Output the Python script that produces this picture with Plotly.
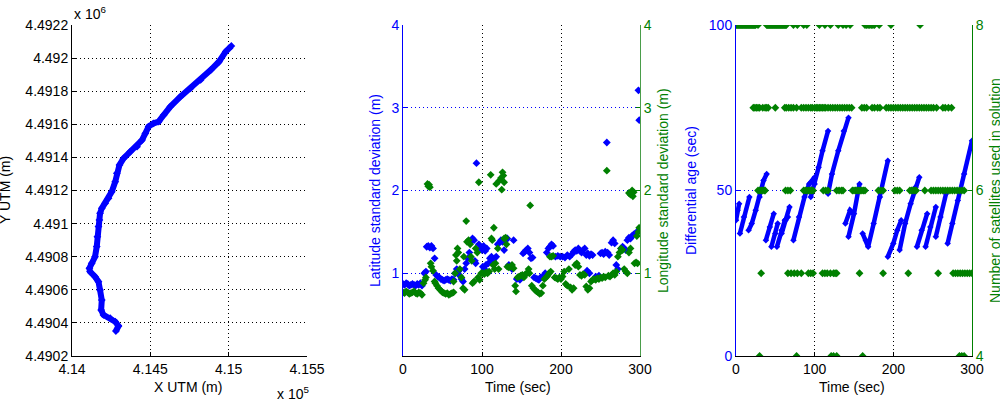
import plotly.graph_objects as go

# ---------------- Data ----------------
# Subplot 1: trajectory in UTM coordinates (m)
path_x = [414280, 414297, 414276, 414244, 414201, 414186, 414190, 414179, 414169, 414147,
          414115, 414111, 414126, 414147, 414158, 414162, 414169, 414175, 414179, 414190,
          414212, 414233, 414254, 414276, 414286, 414303, 414329, 414372, 414415, 414447,
          414468, 414489, 414521, 414553, 414585, 414628, 414692, 414756, 414821, 414885,
          414938, 414981, 415017]
path_y = [4490351, 4490381, 4490407, 4490428, 4490448, 4490478, 4490538, 4490599, 4490649, 4490679,
          4490710, 4490730, 4490760, 4490800, 4490861, 4490921, 4490982, 4491022, 4491062, 4491092,
          4491123, 4491153, 4491193, 4491253, 4491304, 4491354, 4491394, 4491435, 4491465, 4491505,
          4491545, 4491586, 4491606, 4491616, 4491656, 4491707, 4491767, 4491817, 4491868, 4491928,
          4491978, 4492039, 4492073]
x1_tickvals = [414000, 414500, 415000, 415500]
x1_ticktext = ["4.14", "4.145", "4.15", "4.155"]
y1_tickvals = [4490200, 4490400, 4490600, 4490800, 4491000, 4491200, 4491400, 4491600, 4491800, 4492000, 4492200]
y1_ticktext = ["4.4902", "4.4904", "4.4906", "4.4908", "4.491", "4.4912", "4.4914", "4.4916", "4.4918", "4.492", "4.4922"]

# Subplot 2: latitude / longitude standard deviation (m)
lat_t = [0, 2, 4, 6, 8, 10, 12, 14, 16, 18, 20, 22, 24, 27, 29, 30, 32, 34, 36, 38, 40,
         42, 44, 46, 48, 50, 52, 54, 56, 58, 60, 62, 64, 66, 68, 70, 72, 74, 76,
         78, 80, 82, 84, 86, 88, 90, 91, 92, 93, 96, 98, 100, 102, 104, 106,
         101, 103, 105, 108, 110, 112, 114, 116, 118, 120, 122, 124, 126, 128, 130, 132,
         134, 136, 138, 140, 144, 146, 148, 150, 152, 154, 156, 158, 160, 162, 164,
         166, 168, 170, 172, 174, 178, 180, 182, 184, 186, 188, 190,
         193, 196, 199, 202, 205, 208, 211, 214, 216, 218, 220, 222, 224, 226, 228, 230,
         232, 234, 236, 238, 240, 233, 236, 244, 246, 248, 250, 252, 254, 256, 258, 259, 261,
         264, 266, 268, 270, 272, 276, 278, 280, 282, 284, 286, 288, 290, 292, 294, 296, 298, 299]
lat_v = [0.87, 0.86, 0.88, 0.87, 0.85, 0.86, 0.87, 0.86, 0.85, 0.87, 0.86, 0.88, 0.85, 1.0, 1.02, 1.32, 1.33, 1.31, 1.33, 1.3, 1.18,
         0.98, 0.96, 0.95, 0.93, 0.92, 0.91, 0.92, 0.93, 0.92, 0.91, 0.93, 0.92, 1.0, 1.05, 1.02, 0.97, 0.93, 0.9,
         1.05, 1.12, 1.18, 1.25, 1.38, 1.42, 1.4, 1.15, 1.12, 2.33, 1.35, 1.3, 1.28, 1.33, 1.27, 1.3,
         1.08, 1.05, 1.1, 1.12, 1.18, 1.2, 1.15, 1.18, 1.2, 1.35, 1.37, 1.4, 1.38, 1.28, 1.4, 1.42,
         1.1, 1.08, 1.05, 1.4, 0.93, 0.95, 0.92, 0.95, 1.24, 1.26, 1.28, 1.3, 1.25, 1.18, 1.19,
         0.95, 0.94, 0.93, 0.92, 0.95, 0.97, 1.0, 1.25, 1.3, 1.32, 1.35, 1.33,
         1.2, 1.21, 1.2, 1.2, 1.19, 1.22, 1.2, 1.23, 1.26, 1.28, 1.27, 1.3, 1.27, 1.25, 1.28, 1.3,
         1.22, 1.24, 1.21, 1.23, 1.22, 1.03, 1.0, 0.96, 0.95, 0.97, 1.24, 1.25, 1.23, 1.26, 2.58, 1.25, 1.22,
         1.37, 1.4, 1.36, 1.1, 1.05, 1.3, 1.32, 1.3, 1.28, 1.4, 1.43, 1.42, 1.45, 1.47, 1.48, 1.5, 3.21, 2.85]

lon_t = [0, 2, 4, 6, 8, 10, 12, 14, 16, 18, 20, 22, 24, 26, 28, 29, 31, 32, 33, 34, 35, 36, 38,
         40, 41, 43, 45, 47, 49, 50, 52, 54, 56, 58, 60, 62, 64, 64, 66, 67, 68, 69, 70, 72, 74,
         76, 77, 78, 80, 81, 83, 85, 86, 87, 88, 90, 92, 94, 95, 96, 97, 99, 101, 103, 105, 107, 109,
         111, 112, 113, 114, 115, 116, 117, 118, 120, 121, 122, 124, 125, 126, 127, 128, 128, 130, 131,
         132, 134, 136, 138, 140, 142, 143, 145, 147, 149, 151, 153, 155, 157, 159, 160, 161,
         163, 165, 167, 169, 171, 173, 175, 177, 179, 181, 183, 185, 187, 186, 188, 190,
         192, 194, 196, 198, 200, 202, 204, 206, 208, 210, 212, 214, 216, 218, 220, 222,
         224, 226, 228, 230, 232, 234, 236, 238, 240, 242, 244, 246, 248, 250, 252, 254, 256, 258,
         260, 262, 264, 266, 268, 270, 272, 274, 276, 278, 280, 282, 284, 286, 288,
         286, 288, 290, 291, 292, 293, 295, 297, 296, 298, 299]
lon_v = [0.77, 0.76, 0.78, 0.77, 0.75, 0.76, 0.77, 0.78, 0.76, 0.75, 0.77, 0.76, 0.74, 0.88, 0.92, 0.95, 2.08, 2.05, 2.07, 2.04, 1.12, 1.08, 1.03,
         0.9, 0.88, 0.85, 0.82, 0.8, 0.78, 0.77, 0.76, 0.75, 0.76, 0.74, 0.75, 0.76, 0.77, 0.9, 1.0, 1.22, 1.15, 1.3, 1.25, 1.05, 0.95,
         0.82, 1.2, 0.8, 1.63, 1.38, 1.4, 1.35, 1.2, 1.15, 0.88, 0.9, 1.3, 1.25, 0.95, 2.1, 0.92, 1.0, 1.0, 0.99, 1.01, 1.0, 1.02,
         2.19, 1.42, 1.4, 1.1, 1.55, 1.05, 1.12, 2.08, 1.3, 1.05, 2.12, 2.15, 2.01, 2.22, 2.18, 2.1, 1.42, 1.43, 1.35,
         1.08, 1.07, 1.08, 1.1, 1.06, 0.85, 0.78, 0.95, 0.96, 0.97, 0.98, 0.95, 0.99, 1.0, 1.05, 1.0, 1.82,
         0.85, 0.82, 0.8, 0.78, 0.77, 0.75, 0.76, 0.85, 0.93, 0.95, 0.97, 1.0, 1.02, 1.2, 1.2, 1.21,
         0.95, 0.94, 0.93, 0.95, 0.93, 0.96, 1.02, 0.87, 0.85, 1.05, 0.83, 0.8, 0.82, 1.1, 1.12, 1.08,
         0.98, 0.97, 0.99, 0.98, 0.84, 0.8, 0.82, 0.9, 0.92, 0.93, 0.92, 0.94, 0.93, 0.95, 0.94, 0.96, 0.95, 2.24,
         0.97, 0.96, 0.98, 1.0, 0.98, 1.02, 1.2, 1.25, 1.3, 1.28, 1.05, 1.02, 1.0, 1.25, 1.3,
         1.97, 1.95, 2.0, 1.93, 1.98, 1.12, 1.13, 1.12, 1.45, 1.5, 1.55]

# Subplot 3: differential age (sec), sawtooth segments separated by None
age_t = [0, 2, 4, None, 5, 10, 17, None, 16, 20, 25, 30, 35, 39, None, 38, 43, 48, None,
         45, 50, 53, None, 52, 58, 62, 66, None, 58, 63, 68, None, 73, 80, 87, 93, 100, None,
         95, 100, 105, 110, 117, None, 117, 122, 130, 137, 143, None, 139, 145, 149, None,
         143, 150, 157, None, 161, 165, 168, 175, 183, 193, None, 193, 200, 205, 210, None,
         208, 215, 222, 228, 233, None, 230, 236, 243, None, 241, 247, 254, None,
         254, 260, 267, None, 269, 275, 282, 290, 300]
age_v = [41, 44, 46, None, 37, 42, 48, None, 38, 40, 44, 48, 53, 55, None, 35, 39, 43, None,
         33, 37, 40, None, 33, 38, 41, 42, None, 37, 41, 45, None, 35, 42, 48, 52, 54, None,
         48, 52, 57, 62, 68, None, 49, 55, 62, 68, 72, None, 40, 44, 43, None,
         36, 43, 52, None, 37, 35, 33, 40, 48, 59, None, 30, 34, 38, 41, None,
         32, 40, 46, 51, 54, None, 33, 38, 43, None, 33, 39, 45, None,
         36, 42, 49, None, 34, 40, 47, 55, 65]

# Subplot 3: number of satellites used in solution, time stamps per level
sat8_t = [0, 1, 2, 3, 4, 5, 6, 7, 8, 9, 10, 11, 12, 13, 14, 15, 16, 17, 18, 19, 20, 21, 22, 23, 24, 25, 28,
          39, 40, 41, 42, 43, 44, 45, 46, 47, 48, 49, 50, 51, 52, 53, 54, 55, 56, 57, 58, 59, 60, 61, 62, 63, 64,
          73, 78, 86, 90, 106, 113, 120, 130, 136, 140, 145,
          164, 166, 168, 170, 172, 174, 176, 182, 197, 234]
sat7_t = [22, 24, 26, 28, 30, 34, 37, 39, 41, 50, 62, 64, 67, 70, 73, 77,
          83, 86, 89, 92, 95, 97, 100, 102, 104, 106, 108, 110, 112, 114, 117, 120, 123, 126, 129,
          132, 135, 138, 141, 144, 147, 160, 163, 166, 173, 176, 180, 183,
          191, 194, 197, 200, 203, 206, 209, 212, 215, 218, 221, 224, 227, 230, 233, 236, 239,
          242, 245, 248, 251, 255, 263, 266, 270, 274]
sat6_t = [28, 30, 32, 34, 36, 37, 63, 66, 69, 86, 88, 90, 92, 94, 96, 98, 111, 114, 117,
          128, 131, 134, 136, 148, 150, 152, 154, 156, 158, 160, 162, 164, 181, 184, 187,
          202, 205, 208, 221, 223, 225, 227, 229, 240, 248, 251, 254, 257, 260, 263, 266,
          269, 272, 275, 278, 281, 284, 287, 290]
sat5_t = [32, 66, 70, 74, 78, 83, 92, 95, 98, 110, 113, 116, 120, 124, 126, 128,
          157, 187, 219, 257, 276, 279, 282, 285, 288, 291, 294, 297, 300]
sat4_t = [30, 77, 121, 124, 128, 161, 284, 287, 290]

sat_t = sat8_t + sat7_t + sat6_t + sat5_t + sat4_t
sat_n = [8] * len(sat8_t) + [7] * len(sat7_t) + [6] * len(sat6_t) + [5] * len(sat5_t) + [4] * len(sat4_t)

# ---------------- Styles ----------------
BLUE = "#0000ff"
GREEN = "#008000"
FONT = "Liberation Sans, Arial, sans-serif"
FS = 14
DOT = "1px,3px"

W, H = 1000, 400
def px(x):
    return x / W
def py(y):
    return 1 - y / H

Y_TOP, Y_BOT = 25, 356
ydom = [py(Y_BOT), py(Y_TOP)]

fig = go.Figure()

fig.add_trace(go.Scatter(x=path_x, y=path_y, mode="lines+markers",
                         line=dict(color=BLUE, width=6),
                         marker=dict(color=BLUE, size=6, symbol="diamond"),
                         xaxis="x", yaxis="y", showlegend=False))

fig.add_trace(go.Scatter(x=lat_t, y=lat_v, mode="markers",
                         marker=dict(color=BLUE, size=6, symbol="diamond"),
                         xaxis="x2", yaxis="y2", showlegend=False))
fig.add_trace(go.Scatter(x=lon_t, y=lon_v, mode="markers",
                         marker=dict(color=GREEN, size=6, symbol="diamond"),
                         xaxis="x2", yaxis="y3", showlegend=False))

fig.add_trace(go.Scatter(x=age_t, y=age_v, mode="lines+markers", connectgaps=False,
                         line=dict(color=BLUE, width=4.5),
                         marker=dict(color=BLUE, size=5, symbol="diamond"),
                         xaxis="x3", yaxis="y4", showlegend=False))
fig.add_trace(go.Scatter(x=sat_t, y=sat_n, mode="markers",
                         marker=dict(color=GREEN, size=6, symbol="diamond"),
                         xaxis="x3", yaxis="y5", showlegend=False))

grid_common = dict(showgrid=True, griddash=DOT, gridwidth=1, zeroline=False,
                   ticks="inside", ticklen=4, showline=True, linewidth=1, automargin=False,
                   tickfont=dict(family=FONT, size=FS))

fig.update_layout(
    width=W, height=H,
    margin=dict(l=0, r=0, t=0, b=0),
    paper_bgcolor="white", plot_bgcolor="white",
    font=dict(family=FONT, size=FS, color="black"),
    xaxis=dict(domain=[px(72), px(307)], range=[414000, 415500], anchor="y",
               tickvals=x1_tickvals, ticktext=x1_ticktext,
               gridcolor="black", linecolor="black", tickcolor="black",
               **grid_common),
    yaxis=dict(domain=ydom, range=[4490200, 4492200], anchor="x",
               tickvals=y1_tickvals, ticktext=y1_ticktext,
               gridcolor="black", linecolor="black", tickcolor="black",
               **grid_common),
    xaxis2=dict(domain=[px(403), px(640)], range=[0, 300], anchor="y2",
                tickvals=[0, 100, 200, 300],
                gridcolor="black", linecolor="black", tickcolor="black",
                **grid_common),
    yaxis2=dict(domain=ydom, range=[0, 4], anchor="x2",
                tickvals=[1, 2, 3, 4], ticktext=["1", "2", "3", "4"],
                gridcolor=BLUE, linecolor=BLUE, tickcolor=BLUE,
                **{**grid_common, "tickfont": dict(family=FONT, size=FS, color=BLUE)}),
    yaxis3=dict(range=[0, 4], anchor="x2", overlaying="y2", side="right",
                tickvals=[1, 2, 3, 4], ticktext=["1", "2", "3", "4"],
                linecolor="#4a9d4a", tickcolor=GREEN,
                **{**grid_common, "showgrid": False,
                   "tickfont": dict(family=FONT, size=FS, color=GREEN)}),
    xaxis3=dict(domain=[px(736), px(972)], range=[0, 300], anchor="y4",
                tickvals=[0, 100, 200, 300],
                gridcolor="black", linecolor="black", tickcolor="black",
                **grid_common),
    yaxis4=dict(domain=ydom, range=[0, 100], anchor="x3",
                tickvals=[0, 50, 100],
                gridcolor=BLUE, linecolor=BLUE, tickcolor=BLUE,
                **{**grid_common, "tickfont": dict(family=FONT, size=FS, color=BLUE)}),
    yaxis5=dict(range=[4, 8], anchor="x3", overlaying="y4", side="right",
                tickvals=[4, 6, 8],
                linecolor=GREEN, tickcolor=GREEN,
                **{**grid_common, "showgrid": False,
                   "tickfont": dict(family=FONT, size=FS, color=GREEN)}),
)

def ann(text, x, y, color="black", angle=0, xanchor="center", yanchor="middle"):
    fig.add_annotation(text=text, x=px(x), y=py(y), xref="paper", yref="paper",
                       showarrow=False, textangle=angle, xanchor=xanchor, yanchor=yanchor,
                       font=dict(family=FONT, size=FS, color=color))

ann("X UTM (m)", 188, 387)
ann("Y UTM (m)", 5, 190, angle=-90)
ann("x 10<sup>6</sup>", 72, 13, xanchor="left")
ann("x 10<sup>5</sup>", 275, 393, xanchor="left")
ann("Time (sec)", 518, 387)
ann("Latitude standard deviation (m)", 375, 191, color=BLUE, angle=-90)
ann("Longitude standard deviation (m)", 663, 191, color=GREEN, angle=-90)
ann("Time (sec)", 852, 387)
ann("Differential age (sec)", 691, 191, color=BLUE, angle=-90)
ann("Number of satellites used in solution", 995, 191, color=GREEN, angle=-90)

fig.write_html("out.html", config={"displayModeBar": False},
               post_script="document.body.style.margin='0';document.body.style.padding='0';")
